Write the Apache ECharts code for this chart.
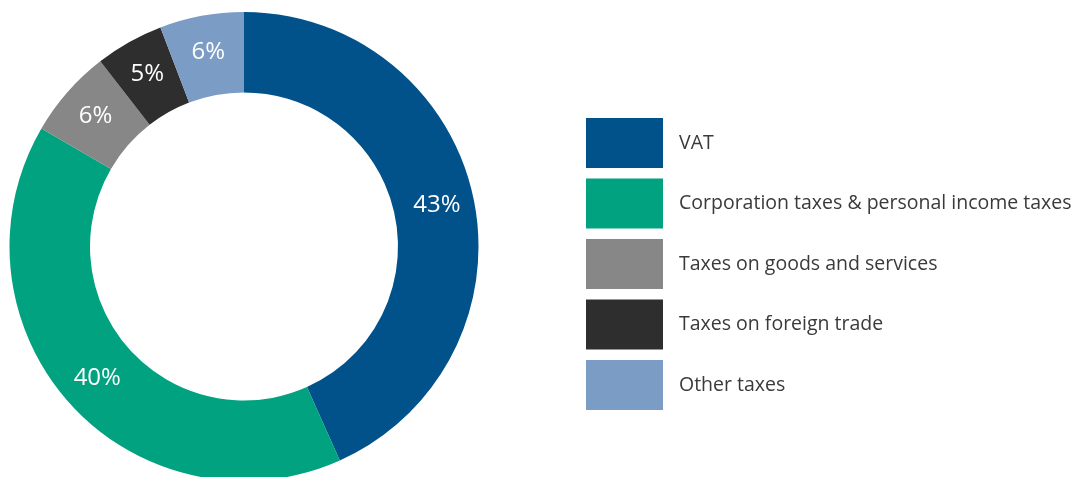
<!DOCTYPE html>
<html><head><meta charset="utf-8">
<script src="https://cdn.jsdelivr.net/npm/echarts@6/dist/echarts.min.js"></script>
<style>html,body{margin:0;padding:0;background:#fff}#c{width:1081px;height:477px}</style>
</head><body><div id="c"></div>
<script>
const categories = ["VAT", "Corporation taxes & personal income taxes", "Taxes on goods and services", "Taxes on foreign trade", "Other taxes"];
const shares = [43.3, 40.1, 6.1, 4.7, 5.8];
const colors = ["#01528b", "#00a27f", "#878787", "#2e2e2e", "#7b9cc4"];

const chart = echarts.init(document.getElementById('c'), null, {renderer: 'canvas'});
chart.setOption({
  animation: false,
  color: colors,
  legend: {
    orient: 'vertical',
    left: 581,
    top: 113,
    itemWidth: 77,
    itemHeight: 50,
    itemGap: 10.5,
    icon: 'rect',
    selectedMode: false,
    textStyle: {fontFamily: 'Open Sans', fontSize: 19.5, color: '#3a3a3a', padding: [0, 0, 0, 11]},
    data: categories
  },
  series: [{
    type: 'pie',
    center: [244, 246.5],
    radius: [154, 234.5],
    startAngle: 90,
    clockwise: true,
    avoidLabelOverlap: false,
    label: {
      show: true,
      position: 'inside',
      color: '#ffffff',
      fontFamily: 'Open Sans',
      fontSize: 24,
      formatter: p => Math.round(p.percent) + '%'
    },
    labelLine: {show: false},
    itemStyle: {borderWidth: 0},
    emphasis: {disabled: true},
    data: categories.map((n, i) => ({name: n, value: shares[i]}))
  }]
});
</script></body></html>
